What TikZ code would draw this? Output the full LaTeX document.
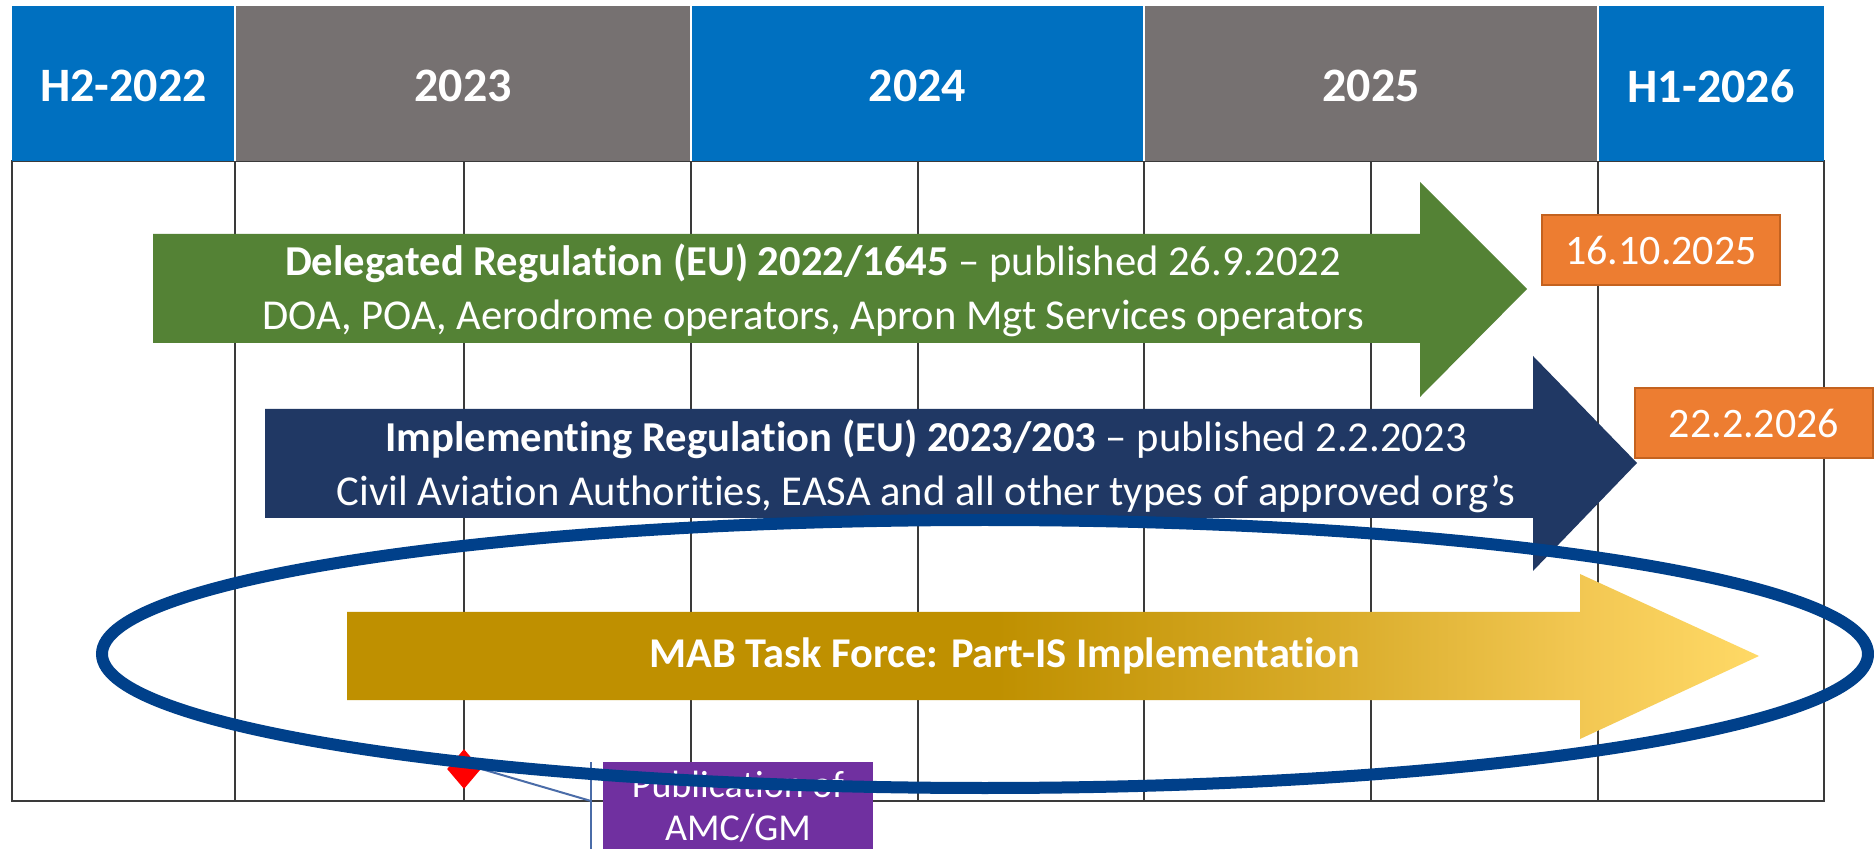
\documentclass[tikz,border=0pt]{standalone}
\usepackage{fontspec}
\setmainfont{Carlito}[Ligatures=NoCommon]
\usetikzlibrary{shapes.geometric}

\definecolor{hblue}{HTML}{0070C0}
\definecolor{hgray}{HTML}{767171}
\definecolor{regreen}{HTML}{548235}
\definecolor{renavy}{HTML}{203864}
\definecolor{dateor}{HTML}{ED7D31}
\definecolor{dateedge}{HTML}{C4621F}
\definecolor{golddark}{HTML}{BF9000}
\definecolor{goldmid}{HTML}{D9AC2A}
\definecolor{goldlight}{HTML}{F2C752}
\definecolor{goldpale}{HTML}{FFD966}
\definecolor{ringblue}{HTML}{00408A}
\definecolor{amcpurple}{HTML}{7030A0}
\definecolor{calloutline}{HTML}{4A6CA8}
\definecolor{gridline}{HTML}{3A3A3A}

% horizontal fade for the task-force bar (25bp..75bp spans the path)
\pgfdeclarehorizontalshading{goldfade}{100bp}{%
  color(0bp)=(golddark); color(48bp)=(golddark); color(60bp)=(goldmid);
  color(68.6bp)=(goldlight); color(75bp)=(goldpale); color(100bp)=(goldpale)}

\begin{document}
\begin{tikzpicture}[x=0.5pt,y=-0.5pt,
  hdrtext/.style={text=white, font=\fontsize{24}{28}\selectfont\bfseries},
  bartext/.style={text=white, align=center, font=\fontsize{21.3}{27}\selectfont},
  datebox/.style={fill=dateor, draw=dateedge, line width=0.8pt, text=white,
    font=\fontsize{21}{25}\selectfont, minimum width=119pt, minimum height=35pt, inner sep=0pt},
  gridrule/.style={draw=gridline, line width=1pt},
  hdrsep/.style={draw=white, line width=0.8pt},
]
\useasboundingbox (0,0) rectangle (1874,849);
\clip (0,0) rectangle (1874,849);
\fill[white] (0,0) rectangle (1874,849);

% timeline grid (half-year columns)
\foreach \x in {235,464,691,918,1144,1371,1598}
  \draw[gridrule] (\x,161) -- (\x,801);
\draw[gridrule] (12,161) rectangle (1824,801);

% year header
\foreach \l/\r/\c/\t/\n in {12/235/hblue/H2-2022/yA, 235/691/hgray/2023/yB,
    691/1144/hblue/2024/yC, 1144/1598/hgray/2025/yD, 1598/1824/hblue/H1-2026/yE}{
  \fill[\c] (\l,6) rectangle (\r,161);
  \node[hdrtext] (\n) at ({(\l+\r)/2},86) {\t};
}
\foreach \x in {235,691,1144,1598}
  \draw[hdrsep] (\x,6) -- (\x,161);

% Delegated Regulation bar
\fill[regreen] (153,234) -- (1420,234) -- (1420,182) -- (1527,289) -- (1420,397)
  -- (1420,343) -- (153,343) -- cycle;
\node[bartext] (dreg) at (813,290)
  {{\bfseries Delegated Regulation (EU) 2022/1645} – published 26.9.2022\\
   DOA, POA, Aerodrome operators, Apron Mgt Services operators};

% Implementing Regulation bar
\fill[renavy] (265,409) -- (1533,409) -- (1533,356) -- (1637,463) -- (1533,571)
  -- (1533,518) -- (265,518) -- cycle;
\node[bartext] (ireg) at (926,466)
  {{\bfseries Implementing Regulation (EU) 2023/203} – published 2.2.2023\\
   Civil Aviation Authorities, EASA and all other types of approved org’s};

% applicability dates
\node[datebox] (dA) at (1661,250) {16.10.2025};
\node[datebox] (dB) at (1754,423) {22.2.2026};

% MAB task force bar
\shade[shading=goldfade] (347,612) -- (1580,612) -- (1580,574) -- (1759,656)
  -- (1580,739) -- (1580,700) -- (347,700) -- cycle;
\node[text=white, font=\fontsize{21.2}{25}\selectfont\bfseries] (mab) at (1005,656)
  {MAB Task Force: Part-IS Implementation};

% AMC/GM milestone with line callout
\node[diamond, fill=red, inner sep=0pt, minimum width=17pt, minimum height=20pt] (pin) at (464,769) {};
\node[fill=amcpurple, text=white, align=center, anchor=north,
  font=\fontsize{19}{21.5}\selectfont, minimum width=135pt, inner ysep=4.5pt] (amc) at (738,762)
  {Publication of\\AMC/GM};
\coordinate (bartop) at (591,762);
\coordinate (barbot) at (591,870);
\coordinate (barjoin) at (591,801);
\draw[calloutline, line width=1pt] (bartop) -- (barbot);
\draw[calloutline, line width=1pt] (pin.east) -- (barjoin);

% highlight ring
\draw[ringblue, line width=6pt] (985,654) ellipse [x radius=883, y radius=134];
\end{tikzpicture}
\end{document}
